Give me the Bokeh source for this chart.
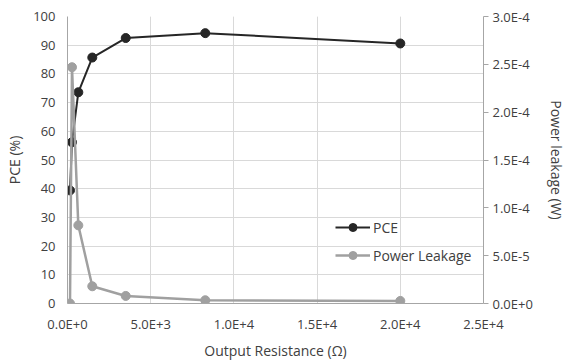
from bokeh.plotting import figure
from bokeh.models import Range1d, LinearAxis, FixedTicker, Legend, LegendItem, Grid
from bokeh.embed import file_html
from bokeh.resources import INLINE

# ---- data ----
resistance = [150, 270, 650, 1490, 3500, 8280, 20000]
pce = [39.4, 56.2, 73.6, 85.7, 92.5, 94.2, 90.6]
power_leakage = [0.0, 2.47e-4, 8.17e-5, 1.8e-5, 7.9e-6, 3.4e-6, 2.7e-6]

x_ticks = [0, 5000, 10000, 15000, 20000, 25000]
x_tick_labels = ["0.0E+0", "5.0E+3", "1.0E+4", "1.5E+4", "2.0E+4", "2.5E+4"]
y_ticks = [0, 10, 20, 30, 40, 50, 60, 70, 80, 90, 100]
y2_ticks = [0.0, 5e-5, 1e-4, 1.5e-4, 2e-4, 2.5e-4, 3e-4]
y2_tick_labels = ["0.0E+0", "5.0E-5", "1.0E-4", "1.5E-4", "2.0E-4", "2.5E-4", "3.0E-4"]

FONT = "Open Sans"
TXT = "#404040"
AXC = "#a6a6a6"
GRID = "#d9d9d9"
BLACK = "#262626"
GRAY = "#a0a0a0"

p = figure(width=568, height=363, output_backend="svg", toolbar_location=None,
           x_range=Range1d(0, 25000), y_range=Range1d(0, 100),
           min_border_left=67, min_border_right=83, min_border_top=16, min_border_bottom=60,
           y_axis_location=None, x_axis_location=None)
p.outline_line_color = None
p.background_fill_color = "white"
p.border_fill_color = "white"

p.extra_y_ranges = {"pw": Range1d(0, 3e-4)}

xa = LinearAxis(ticker=FixedTicker(ticks=x_ticks))
xa.major_label_overrides = {t: l for t, l in zip(x_ticks, x_tick_labels)}
xa.axis_label = "Output Resistance (Ω)"
ya = LinearAxis(ticker=FixedTicker(ticks=y_ticks))
ya.axis_label = "PCE (%)"
y2 = LinearAxis(y_range_name="pw", ticker=FixedTicker(ticks=y2_ticks))
y2.major_label_overrides = {t: l for t, l in zip(y2_ticks, y2_tick_labels)}
y2.axis_label = "Power leakage (W)"

for ax in (xa, ya, y2):
    ax.axis_line_color = AXC
    ax.axis_line_width = 1
    ax.minor_tick_line_color = None
    ax.major_label_text_font = FONT
    ax.major_label_text_font_size = "13px"
    ax.major_label_text_color = TXT
    ax.axis_label_text_font = FONT
    ax.axis_label_text_font_size = "14px"
    ax.axis_label_text_font_style = "normal"
    ax.axis_label_text_color = TXT

for ax in (xa, ya):
    ax.major_tick_line_color = None
    ax.major_tick_out = 0
    ax.major_tick_in = 0

y2.major_tick_line_color = AXC
y2.major_tick_out = 5
y2.major_tick_in = 0

xa.major_label_standoff = 11
xa.axis_label_standoff = 5
ya.major_label_standoff = 12
ya.axis_label_standoff = 6
y2.major_label_standoff = 4
y2.axis_label_standoff = 11

p.add_layout(xa, "below")
p.add_layout(ya, "left")
p.add_layout(y2, "right")

gx = Grid(dimension=0, ticker=xa.ticker, grid_line_color=GRID, grid_line_width=1)
gy = Grid(dimension=1, ticker=ya.ticker, grid_line_color=GRID, grid_line_width=1)
p.add_layout(gx)
p.add_layout(gy)

l1 = p.line(resistance, pce, line_color=BLACK, line_width=2)
s1 = p.scatter(resistance, pce, size=9, fill_color=BLACK, line_color=BLACK)
l2 = p.line(resistance, power_leakage, y_range_name="pw", line_color=GRAY, line_width=2.5)
s2 = p.scatter(resistance, power_leakage, y_range_name="pw", size=9, fill_color=GRAY, line_color=GRAY)

legend = Legend(items=[LegendItem(label="PCE", renderers=[l1, s1]),
                       LegendItem(label="Power Leakage", renderers=[l2, s2])],
                location=(268, 38), padding=0, margin=0, spacing=8,
                glyph_width=35, glyph_height=20, label_height=20, label_standoff=3,
                label_text_font=FONT, label_text_font_size="14px", label_text_color=TXT,
                background_fill_alpha=0, border_line_color=None)
p.add_layout(legend, "center")

open("out.html", "w").write(file_html(p, INLINE))
